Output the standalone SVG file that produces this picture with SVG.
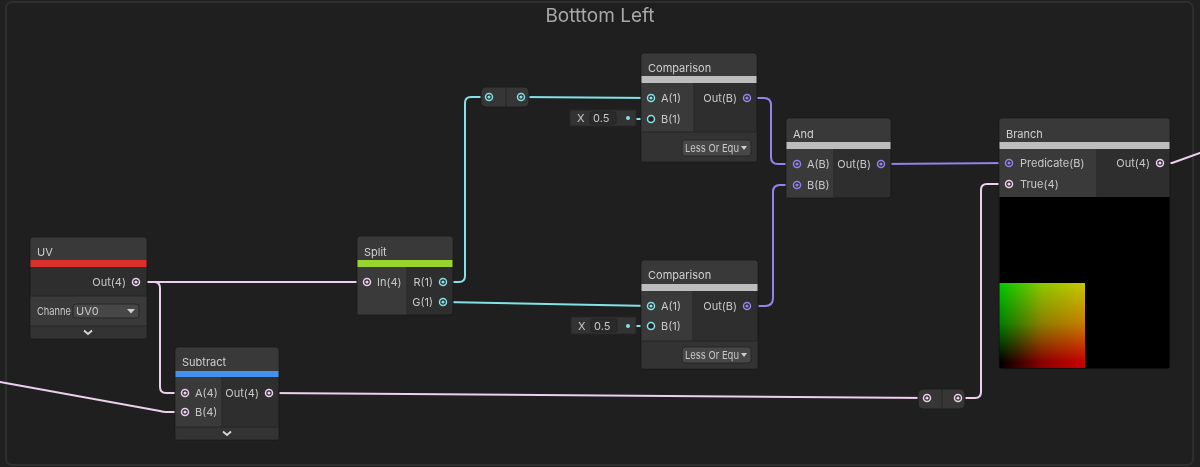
<svg xmlns="http://www.w3.org/2000/svg" width="1200" height="467" viewBox="0 0 1200 467">
<defs>
<linearGradient id="gx" x1="0" y1="0" x2="1" y2="0">
<stop offset="0" stop-color="#000"/><stop offset="0.5" stop-color="#8c0000"/><stop offset="1" stop-color="#c80000"/>
</linearGradient>
<linearGradient id="gy" x1="0" y1="0" x2="0" y2="1">
<stop offset="0" stop-color="#00c800"/><stop offset="0.5" stop-color="#008000"/><stop offset="1" stop-color="#000"/>
</linearGradient>
</defs>
<style>
.t{font-family:Inter,"Liberation Sans",sans-serif;font-size:11px;fill:#c8c8c8}
.tt{font-family:Inter,"Liberation Sans",sans-serif;font-size:11px;fill:#d0d0d0}
.r{text-anchor:end}
.node{fill:#2e2e2e;stroke:#191919;stroke-width:1}
.hd{fill:#393939}
.in{fill:#3a3a3a}
.ctl{fill:#333333}
.sep{stroke:#242424;stroke-width:1}
.bar{fill:#bdbdbd}
.w{fill:none;stroke-width:2;stroke-linecap:round;stroke-linejoin:round}
.pk{stroke:#ecd0ec}
.cy{stroke:#84e2e6}
.pu{stroke:#9782ec}
.pp{fill:#2a2a2a;stroke-width:1.5}
.dd{fill:#474747;stroke:#262626;stroke-width:1}
.chev{fill:none;stroke:#d8d8d8;stroke-width:1.8}
</style>
<rect width="1200" height="467" fill="#202020"/>
<rect x="6" y="2" width="1187" height="463" rx="6" fill="#1f1f1f" stroke="#2e2e2e" stroke-width="2"/>
<text x="600" y="22" text-anchor="middle" font-family="Inter,'Liberation Sans',sans-serif" font-size="19" fill="#a8a8a8">Botttom Left</text>

<g id="connectors">
<path class="w pk" d="M136,282 H367"/>
<path class="w pk" d="M136,282 H154 Q160,282 160,288 V387 Q160,393 166,393 H185"/>
<path class="w pk" d="M0,382 L160,411 Q163,412 166,412 H185"/>
<path class="w pk" d="M269,393 L927,398"/>
<path class="w pk" d="M958,398 H975 Q981,398 981,392 V190 Q981,184 987,184 H1009"/>
<path class="w pk" d="M1160,163 H1172 L1200,153"/>
<path class="w cy" d="M443,282 H459 Q465,282 465,276 V103 Q465,97 471,97 H489"/>
<path class="w cy" d="M521,97 L651,98"/>
<path class="w cy" d="M443,302 L651,306"/>
<path class="w cy" d="M628,119 H651"/>
<path class="w cy" d="M628,326 H651"/>
<path class="w pu" d="M747,98 H764 Q771,98 771,105 V157 Q771,164 778,164 H797"/>
<path class="w pu" d="M747,306 H765 Q773,306 773,298 V192 Q773,185 780,185 H797"/>
<path class="w pu" d="M881,164 L1009,163"/>
</g>

<g id="uv">
<rect class="node" x="30" y="237" width="117" height="102" rx="3"/>
<path class="hd" d="M33,237.5 H144 Q146.5,237.5 146.5,240 V260 H30.5 V240 Q30.5,237.5 33,237.5 Z"/>
<rect x="30.5" y="260" width="116" height="7" fill="#d9312a"/>
<rect class="in" x="30.5" y="296" width="116" height="30"/>
<rect class="ctl" x="30.5" y="326" width="116" height="12.5"/>
<line class="sep" x1="30.5" y1="296" x2="146.5" y2="296"/>
<line class="sep" x1="30.5" y1="326" x2="146.5" y2="326"/>
<text class="tt" x="37" y="256">UV</text>
<text class="t r" x="126" y="286">Out(4)</text>
<circle class="pp" cx="136" cy="282" r="3.5" stroke="#ecd0ec"/><circle cx="136" cy="282" r="1.6" fill="#ecd0ec"/>
<text class="t" x="37" y="315" textLength="34" lengthAdjust="spacingAndGlyphs">Channe</text>
<rect class="dd" x="73" y="304" width="66" height="14" rx="3"/>
<text class="t" x="76" y="315">UV0</text>
<polygon points="127,309 135,309 131,313.5" fill="#d0d0d0"/>
<polyline class="chev" points="84,330.5 88,334 92,330.5"/>
</g>

<g id="subtract">
<rect class="node" x="175" y="347" width="104" height="93" rx="3"/>
<path class="hd" d="M178,347.5 H276 Q278.5,347.5 278.5,350 V371 H175.5 V350 Q175.5,347.5 178,347.5 Z"/>
<rect x="175.5" y="371" width="103" height="6" fill="#4391ee"/>
<rect class="in" x="175.5" y="377" width="47" height="50"/>
<rect class="ctl" x="175.5" y="427" width="103" height="12.5"/>
<line class="sep" x1="222" y1="377" x2="222" y2="427"/>
<line class="sep" x1="175.5" y1="427" x2="278.5" y2="427"/>
<text class="tt" x="182" y="366">Subtract</text>
<circle class="pp" cx="185" cy="393" r="3.5" stroke="#ecd0ec"/><circle cx="185" cy="393" r="1.6" fill="#ecd0ec"/>
<circle class="pp" cx="185" cy="412" r="3.5" stroke="#ecd0ec"/><circle cx="185" cy="412" r="1.6" fill="#ecd0ec"/>
<text class="t" x="195" y="397">A(4)</text>
<text class="t" x="195" y="416">B(4)</text>
<text class="t r" x="259" y="397">Out(4)</text>
<circle class="pp" cx="269" cy="393" r="3.5" stroke="#ecd0ec"/><circle cx="269" cy="393" r="1.6" fill="#ecd0ec"/>
<polyline class="chev" points="223,431.5 227,435 231,431.5"/>
</g>

<g id="split">
<rect class="node" x="357" y="236" width="96" height="79" rx="3"/>
<path class="hd" d="M360,236.5 H450 Q452.5,236.5 452.5,239 V260 H357.5 V239 Q357.5,236.5 360,236.5 Z"/>
<rect x="357.5" y="260" width="95" height="7" fill="#97d42e"/>
<rect class="in" x="357.5" y="267" width="50" height="47.5"/>
<line class="sep" x1="407" y1="267" x2="407" y2="314.5"/>
<text class="tt" x="364" y="256">Split</text>
<circle class="pp" cx="367" cy="282" r="3.5" stroke="#ecd0ec"/><circle cx="367" cy="282" r="1.6" fill="#ecd0ec"/>
<text class="t" x="377" y="286">In(4)</text>
<text class="t r" x="433" y="286">R(1)</text>
<text class="t r" x="433" y="306">G(1)</text>
<circle class="pp" cx="443" cy="282" r="3.5" stroke="#84e2e6"/><circle cx="443" cy="282" r="1.6" fill="#84e2e6"/>
<circle class="pp" cx="443" cy="302" r="3.5" stroke="#84e2e6"/><circle cx="443" cy="302" r="1.6" fill="#84e2e6"/>
</g>

<g id="reroute-top">
<rect x="481" y="87" width="48" height="20" rx="5" fill="#363636" stroke="#1c1c1c"/>
<line class="sep" x1="506" y1="87" x2="506" y2="107"/>
<circle class="pp" cx="489" cy="97" r="3.5" stroke="#84e2e6"/><circle cx="489" cy="97" r="1.6" fill="#84e2e6"/>
<circle class="pp" cx="521" cy="97" r="3.5" stroke="#84e2e6"/><circle cx="521" cy="97" r="1.6" fill="#84e2e6"/>
</g>

<g id="comparison-top">
<rect class="node" x="641" y="53" width="116" height="109" rx="3"/>
<path class="hd" d="M644,53.5 H754 Q756.5,53.5 756.5,56 V76 H641.5 V56 Q641.5,53.5 644,53.5 Z"/>
<rect class="bar" x="641.5" y="76" width="115" height="7"/>
<rect class="in" x="641.5" y="83" width="53" height="49"/>
<rect class="ctl" x="641.5" y="132" width="115" height="29.5"/>
<line class="sep" x1="694" y1="83" x2="694" y2="132"/>
<line class="sep" x1="641.5" y1="132" x2="756.5" y2="132"/>
<text class="tt" x="648" y="72">Comparison</text>
<circle class="pp" cx="651" cy="98" r="3.5" stroke="#84e2e6"/><circle cx="651" cy="98" r="1.6" fill="#84e2e6"/>
<circle cx="651" cy="119" r="3.5" fill="#222" stroke="#84e2e6" stroke-width="1.5"/>
<text class="t" x="661" y="102">A(1)</text>
<text class="t" x="661" y="123">B(1)</text>
<text class="t r" x="737" y="102">Out(B)</text>
<circle class="pp" cx="747" cy="98" r="3.5" stroke="#9782ec"/><circle cx="747" cy="98" r="1.6" fill="#9782ec"/>
<rect class="dd" x="682" y="140" width="69" height="16" rx="3"/>
<text class="t" x="685" y="152" textLength="54" lengthAdjust="spacingAndGlyphs">Less Or Equ</text>
<polygon points="741,146 747,146 744,150" fill="#d0d0d0"/>
</g>
<g id="x-top">
<rect x="570" y="110" width="66" height="16" fill="#333" stroke="#262626"/>
<text class="t" x="577" y="122">X</text>
<rect x="590" y="112" width="26" height="12" rx="2" fill="#2a2a2a" stroke="#222"/>
<text class="t" x="593" y="122">0.5</text>
<circle cx="628" cy="118" r="2" fill="#84e2e6"/>
</g>

<g id="comparison-bottom">
<rect class="node" x="641" y="260" width="117" height="109" rx="3"/>
<path class="hd" d="M644,260.5 H755 Q757.5,260.5 757.5,263 V284 H641.5 V263 Q641.5,260.5 644,260.5 Z"/>
<rect class="bar" x="641.5" y="284" width="116" height="7"/>
<rect class="in" x="641.5" y="291" width="52" height="50"/>
<rect class="ctl" x="641.5" y="341" width="116" height="27.5"/>
<line class="sep" x1="693" y1="291" x2="693" y2="341"/>
<line class="sep" x1="641.5" y1="341" x2="757.5" y2="341"/>
<text class="tt" x="648" y="279">Comparison</text>
<circle class="pp" cx="651" cy="306" r="3.5" stroke="#84e2e6"/><circle cx="651" cy="306" r="1.6" fill="#84e2e6"/>
<circle cx="651" cy="326" r="3.5" fill="#222" stroke="#84e2e6" stroke-width="1.5"/>
<text class="t" x="661" y="310">A(1)</text>
<text class="t" x="661" y="330">B(1)</text>
<text class="t r" x="737" y="310">Out(B)</text>
<circle class="pp" cx="747" cy="306" r="3.5" stroke="#9782ec"/><circle cx="747" cy="306" r="1.6" fill="#9782ec"/>
<rect class="dd" x="682" y="347" width="69" height="16" rx="3"/>
<text class="t" x="685" y="359" textLength="54" lengthAdjust="spacingAndGlyphs">Less Or Equ</text>
<polygon points="741,353 747,353 744,357" fill="#d0d0d0"/>
</g>
<g id="x-bottom">
<rect x="571" y="317" width="65" height="17" fill="#333" stroke="#262626"/>
<text class="t" x="578" y="330">X</text>
<rect x="591" y="319" width="26" height="13" rx="2" fill="#2a2a2a" stroke="#222"/>
<text class="t" x="594" y="330">0.5</text>
<circle cx="628" cy="326" r="2" fill="#84e2e6"/>
</g>

<g id="and">
<rect class="node" x="786" y="118" width="105" height="80" rx="3"/>
<path class="hd" d="M789,118.5 H888 Q890.5,118.5 890.5,121 V142 H786.5 V121 Q786.5,118.5 789,118.5 Z"/>
<rect class="bar" x="786.5" y="142" width="104" height="7"/>
<rect class="in" x="786.5" y="149" width="48" height="48.5"/>
<line class="sep" x1="834" y1="149" x2="834" y2="197.5"/>
<text class="tt" x="793" y="138">And</text>
<circle class="pp" cx="797" cy="164" r="3.5" stroke="#9782ec"/><circle cx="797" cy="164" r="1.6" fill="#9782ec"/>
<circle class="pp" cx="797" cy="185" r="3.5" stroke="#9782ec"/><circle cx="797" cy="185" r="1.6" fill="#9782ec"/>
<text class="t" x="807" y="168">A(B)</text>
<text class="t" x="807" y="189">B(B)</text>
<text class="t r" x="871" y="168">Out(B)</text>
<circle class="pp" cx="881" cy="164" r="3.5" stroke="#9782ec"/><circle cx="881" cy="164" r="1.6" fill="#9782ec"/>
</g>

<g id="reroute-bottom">
<rect x="918" y="389" width="47" height="20" rx="5" fill="#363636" stroke="#1c1c1c"/>
<line class="sep" x1="942" y1="389" x2="942" y2="409"/>
<circle class="pp" cx="927" cy="398" r="3.5" stroke="#ecd0ec"/><circle cx="927" cy="398" r="1.6" fill="#ecd0ec"/>
<circle class="pp" cx="958" cy="398" r="3.5" stroke="#ecd0ec"/><circle cx="958" cy="398" r="1.6" fill="#ecd0ec"/>
</g>

<g id="branch">
<rect class="node" x="999" y="118" width="171" height="251" rx="4"/>
<path class="hd" d="M1002,118.5 H1167 Q1169.5,118.5 1169.5,121 V142 H999.5 V121 Q999.5,118.5 1002,118.5 Z"/>
<rect class="bar" x="999.5" y="142" width="170" height="7"/>
<rect class="in" x="999.5" y="149" width="98" height="48"/>
<line class="sep" x1="1097" y1="149" x2="1097" y2="197"/>
<path d="M999.5,197 H1169.5 V366 Q1169.5,368.5 1167,368.5 H1002 Q999.5,368.5 999.5,366 Z" fill="#000"/>
<rect x="999.5" y="283" width="85.5" height="85" fill="url(#gx)"/>
<rect x="999.5" y="283" width="85.5" height="79" fill="url(#gy)" style="mix-blend-mode:screen"/>
<text class="tt" x="1006" y="138">Branch</text>
<circle class="pp" cx="1009" cy="163" r="3.5" stroke="#9782ec"/><circle cx="1009" cy="163" r="1.6" fill="#9782ec"/>
<circle class="pp" cx="1009" cy="184" r="3.5" stroke="#ecd0ec"/><circle cx="1009" cy="184" r="1.6" fill="#ecd0ec"/>
<text class="t" x="1020" y="167">Predicate(B)</text>
<text class="t" x="1020" y="188">True(4)</text>
<text class="t r" x="1150" y="167">Out(4)</text>
<circle class="pp" cx="1160" cy="163" r="3.5" stroke="#ecd0ec"/><circle cx="1160" cy="163" r="1.6" fill="#ecd0ec"/>
</g>
</svg>
